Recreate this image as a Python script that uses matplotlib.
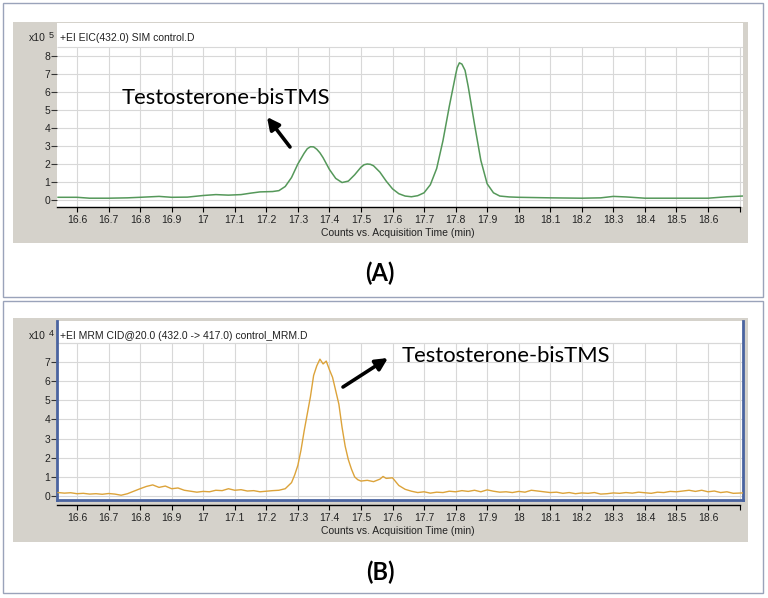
import matplotlib
matplotlib.use("Agg")
import matplotlib.pyplot as plt
from matplotlib.patches import Rectangle, FancyArrowPatch

# ---- data ----
# (A) EIC 432.0, counts x10^5
time_a = [16.54, 16.60, 16.64, 16.70, 16.76, 16.80, 16.86, 16.90, 16.95, 17.00,
          17.04, 17.08, 17.12, 17.15, 17.18, 17.22, 17.24, 17.26, 17.28, 17.30,
          17.32, 17.33, 17.34, 17.35, 17.36, 17.37, 17.38, 17.40, 17.42, 17.44,
          17.46, 17.48, 17.50, 17.51, 17.52, 17.53, 17.54, 17.56, 17.58, 17.60,
          17.62, 17.64, 17.66, 17.68, 17.70, 17.72, 17.74, 17.76, 17.78, 17.80,
          17.805, 17.812, 17.82, 17.83, 17.84, 17.86, 17.88, 17.90, 17.92, 17.94,
          17.97, 18.00, 18.10, 18.20, 18.26, 18.30, 18.34, 18.40, 18.50, 18.60,
          18.66, 18.71]
counts_a = [0.15, 0.15, 0.10, 0.10, 0.12, 0.15, 0.20, 0.15, 0.16, 0.25,
            0.30, 0.27, 0.30, 0.38, 0.45, 0.47, 0.52, 0.75, 1.25, 2.00,
            2.60, 2.85, 2.96, 2.95, 2.82, 2.62, 2.35, 1.70, 1.20, 0.97,
            1.05, 1.40, 1.82, 1.96, 2.00, 1.98, 1.90, 1.55, 1.05, 0.62,
            0.35, 0.22, 0.18, 0.24, 0.40, 0.85, 1.75, 3.30, 5.20, 6.95,
            7.35, 7.62, 7.55, 7.20, 6.30, 4.20, 2.20, 0.90, 0.40, 0.22,
            0.17, 0.15, 0.12, 0.10, 0.12, 0.20, 0.17, 0.10, 0.10, 0.10,
            0.18, 0.22]

# (B) MRM 432.0 -> 417.0, counts x10^4
time_b = [16.54, 16.56, 16.58, 16.60, 16.62, 16.64, 16.66, 16.68, 16.70, 16.72,
          16.74, 16.76, 16.78, 16.80, 16.82, 16.84, 16.86, 16.88, 16.90, 16.92,
          16.94, 16.96, 16.98, 17.00, 17.02, 17.04, 17.06, 17.08, 17.10, 17.12,
          17.14, 17.16, 17.18, 17.20, 17.22, 17.24, 17.26, 17.28, 17.29, 17.30,
          17.31, 17.32, 17.33, 17.34, 17.35, 17.36, 17.37, 17.38, 17.39, 17.40,
          17.41, 17.42, 17.43, 17.44, 17.45, 17.46, 17.47, 17.48, 17.49, 17.50,
          17.52, 17.54, 17.56, 17.57, 17.58, 17.60, 17.61, 17.62, 17.64, 17.66,
          17.68, 17.70, 17.72, 17.74, 17.76, 17.78, 17.80, 17.82, 17.84, 17.86,
          17.88, 17.90, 17.92, 17.94, 17.96, 17.98, 18.00, 18.02, 18.04, 18.06,
          18.08, 18.10, 18.12, 18.14, 18.16, 18.18, 18.20, 18.22, 18.24, 18.26,
          18.28, 18.30, 18.32, 18.34, 18.36, 18.38, 18.40, 18.42, 18.44, 18.46,
          18.48, 18.50, 18.52, 18.54, 18.56, 18.58, 18.60, 18.62, 18.64, 18.66,
          18.68, 18.71]
counts_b = [0.18, 0.15, 0.17, 0.12, 0.14, 0.10, 0.12, 0.09, 0.13, 0.10,
            0.04, 0.12, 0.25, 0.38, 0.50, 0.58, 0.45, 0.52, 0.38, 0.42,
            0.30, 0.25, 0.20, 0.24, 0.22, 0.30, 0.28, 0.38, 0.30, 0.33,
            0.26, 0.28, 0.22, 0.25, 0.28, 0.30, 0.38, 0.70, 1.10, 1.60,
            2.40, 3.40, 4.30, 5.20, 6.30, 6.80, 7.15, 6.90, 7.05, 6.60,
            6.20, 5.50, 4.80, 3.60, 2.60, 1.90, 1.40, 1.00, 0.85, 0.78,
            0.82, 0.75, 0.88, 1.02, 0.92, 0.95, 0.75, 0.55, 0.35, 0.25,
            0.18, 0.22, 0.15, 0.20, 0.18, 0.25, 0.22, 0.28, 0.24, 0.30,
            0.22, 0.32, 0.25, 0.20, 0.22, 0.18, 0.24, 0.20, 0.30, 0.26,
            0.22, 0.18, 0.20, 0.14, 0.18, 0.12, 0.16, 0.14, 0.18, 0.10,
            0.12, 0.16, 0.14, 0.18, 0.15, 0.20, 0.17, 0.14, 0.20, 0.18,
            0.24, 0.22, 0.26, 0.30, 0.24, 0.30, 0.22, 0.26, 0.18, 0.22,
            0.14, 0.16]

xticks = [16.6, 16.7, 16.8, 16.9, 17.0, 17.1, 17.2, 17.3, 17.4, 17.5, 17.6,
          17.7, 17.8, 17.9, 18.0, 18.1, 18.2, 18.3, 18.4, 18.5, 18.6, 18.7]
xlabels = ["16.6", "16.7", "16.8", "16.9", "17", "17.1", "17.2", "17.3", "17.4",
           "17.5", "17.6", "17.7", "17.8", "17.9", "18", "18.1", "18.2", "18.3",
           "18.4", "18.5", "18.6", ""]

W, H = 768, 598
PXMIN = 315.5          # pixels per minute
X0 = 16.6 - 20 / PXMIN  # left edge of plot area
X1 = 16.6 + 666 / PXMIN

GRAY = "#d5d2cb"
GRID = "#d8d8d8"
FONT = "Liberation Sans"
ANN_FONT = "Lato"

fig = plt.figure(figsize=(W / 100, H / 100), dpi=100)


def frac(x0, y0, x1, y1):
    return [x0 / W, 1 - y1 / H, (x1 - x0) / W, (y1 - y0) / H]


def box(x0, y0, x1, y1, **kw):
    fig.add_artist(Rectangle((x0 / W, 1 - y1 / H), (x1 - x0) / W, (y1 - y0) / H,
                             transform=fig.transFigure, zorder=-10, **kw))


def ftext(x, y, s, **kw):
    fig.text(x / W, 1 - y / H, s, **kw)


def arrow(x_tail, y_tail, x_head, y_head):
    fig.add_artist(FancyArrowPatch(
        (x_tail / W, 1 - y_tail / H), (x_head / W, 1 - y_head / H),
        transform=fig.transFigure, arrowstyle="-|>", mutation_scale=18,
        lw=2.6, color="black", shrinkA=0, shrinkB=0, zorder=10))


def panel(top, bottom, axis_y, y_zero, px_unit, grid_top, yt, t, c, color,
          lw, sup, title, blue):
    ax = fig.add_axes(frac(57, top, 743, bottom))
    ax.set_facecolor("white")
    ax.set_xlim(X0, X1)
    ax.set_ylim(-(bottom - y_zero) / px_unit, (y_zero - top) / px_unit)
    ax.vlines(xticks, -(bottom - y_zero) / px_unit, grid_top, color=GRID,
              lw=0.8, zorder=0)
    ax.hlines(list(range(int(grid_top) + 1)) + [grid_top], X0, X1, color=GRID,
              lw=0.8, zorder=0)
    ax.plot(t, c, color=color, lw=lw, zorder=3)
    ax.set_xticks([])
    ax.set_yticks(yt)
    ax.set_yticklabels([str(v) for v in yt], fontsize=7.5, family=FONT,
                       color="#222222")
    ax.tick_params(axis="y", direction="out", length=4.5, width=0.8,
                   color="#333333", pad=0.5)
    for s in ax.spines.values():
        s.set_visible(False)
    if blue:
        for k in ("left", "right", "bottom"):
            ax.spines[k].set_visible(True)
            ax.spines[k].set_color("#4a64a0")
            ax.spines[k].set_linewidth(2)

    # x axis line with ticks
    axt = fig.add_axes(frac(57, axis_y - 1, 740, axis_y))
    axt.set_facecolor("none")
    axt.set_xlim(X0, 16.6 + 663 / PXMIN)
    axt.set_yticks([])
    for k in ("top", "left", "right"):
        axt.spines[k].set_visible(False)
    axt.spines["bottom"].set_color("black")
    axt.spines["bottom"].set_linewidth(1)
    axt.set_xticks(xticks)
    axt.set_xticklabels(xlabels, fontsize=7.5, family=FONT, color="#222222")
    axt.tick_params(axis="x", direction="out", length=3.5, width=0.8, pad=2)

    ftext(398, axis_y + 26, "Counts vs. Acquisition Time (min)", fontsize=7.5,
          family=FONT, ha="center", va="center", color="#222222")
    ftext(46, top + 15, "x10", fontsize=7.5, family=FONT, ha="right",
          va="center", color="#222222")
    ftext(49, top + 12, sup, fontsize=6.5, family=FONT, ha="left",
          va="center", color="#222222")
    ftext(60, top + 15, title, fontsize=7.5, family=FONT, ha="left",
          va="center", color="#222222")
    return ax


# outer frames and gray panes
box(3, 3, 763, 297, facecolor="white", edgecolor="#9aa3ba", lw=1)
box(3, 301, 763, 593, facecolor="white", edgecolor="#9aa3ba", lw=1)
box(13, 22, 748, 243, facecolor=GRAY, edgecolor="none")
box(13, 318, 748, 542, facecolor=GRAY, edgecolor="none")

panel(23, 207, 207, 200, 18.0, 8.5, list(range(9)), time_a, counts_a,
      "#55985a", 1.1, "5", "+EI EIC(432.0) SIM control.D", False)
panel(321, 500, 505, 496, 19.14, 8, list(range(8)), time_b, counts_b,
      "#dca33a", 1.0, "4", "+EI MRM CID@20.0 (432.0 -> 417.0) control_MRM.D",
      True)

# annotations
ftext(122, 104, "Testosterone-bisTMS", fontsize=15.8, family=ANN_FONT,
      ha="left", va="baseline", color="black", zorder=10)
arrow(290, 147, 267, 117)
ftext(402, 362, "Testosterone-bisTMS", fontsize=15.8, family=ANN_FONT,
      ha="left", va="baseline", color="black", zorder=10)
arrow(343, 387, 388, 358)

ftext(380, 273, "(A)", fontsize=17, family=ANN_FONT, weight="bold",
      ha="center", va="center", color="black")
ftext(380, 572, "(B)", fontsize=17, family=ANN_FONT, weight="bold",
      ha="center", va="center", color="black")

fig.savefig("out.png", dpi=100)
